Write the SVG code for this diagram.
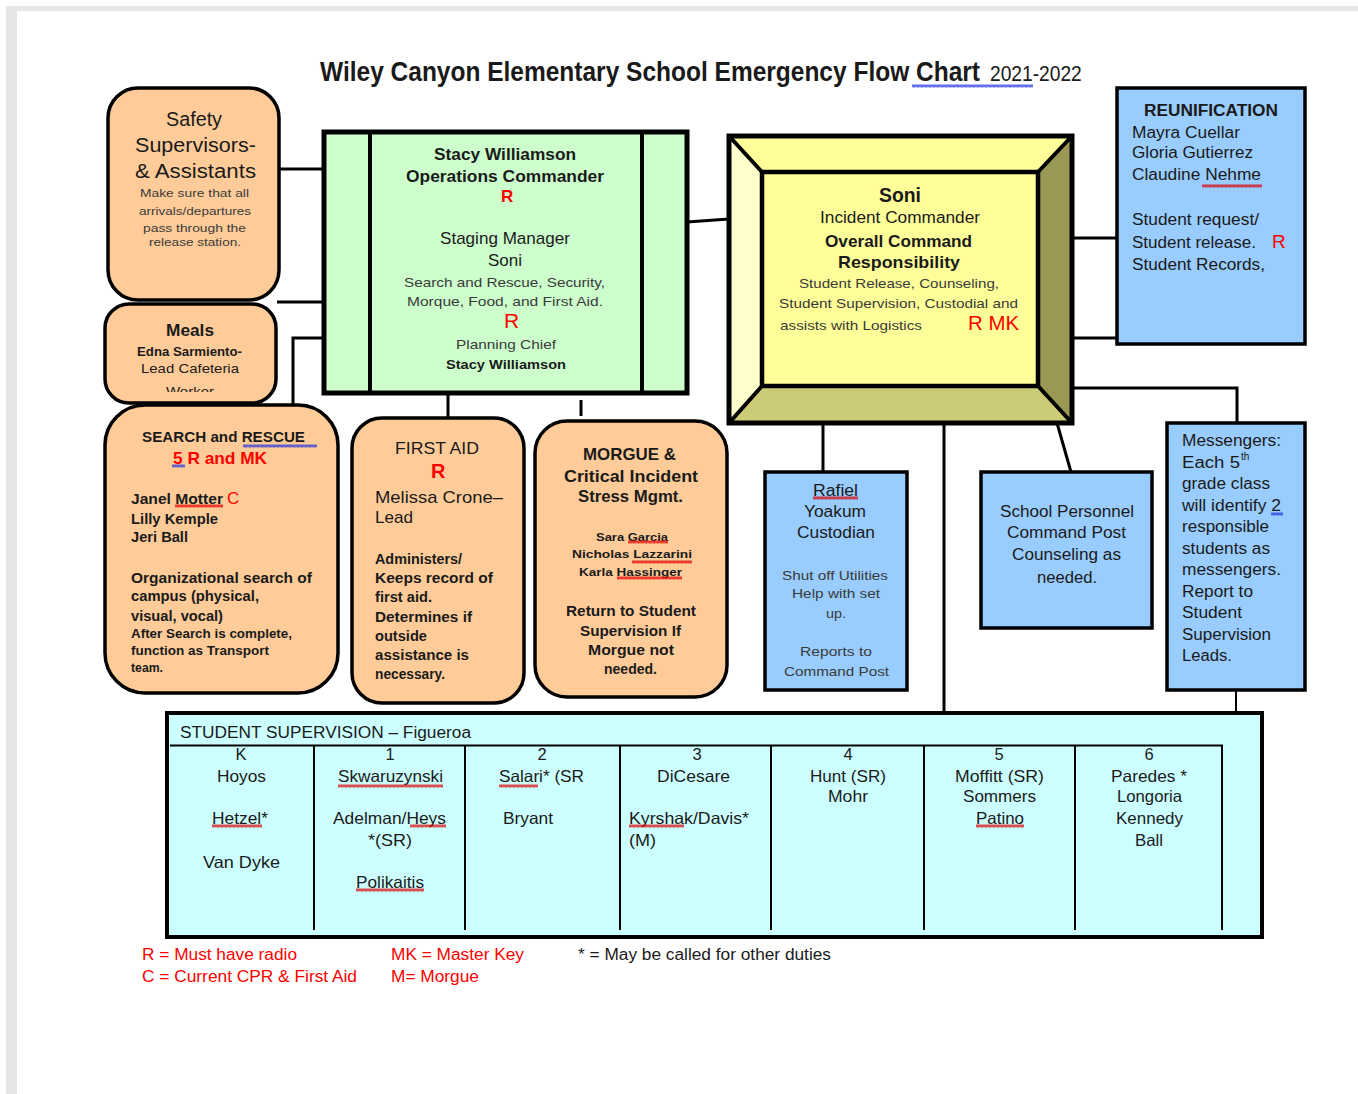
<svg xmlns="http://www.w3.org/2000/svg" width="1358" height="1094" viewBox="0 0 1358 1094">
<defs>
<style>
text{font-family:"Liberation Sans",Arial,sans-serif;fill:#1a1a1a}
.b{font-weight:bold}
.r{fill:#FF0000}
.g{fill:#3a3a3a}
.peach{fill:#FFCC99;stroke:#000;stroke-width:3.5}
.blue{fill:#99CCFF;stroke:#000;stroke-width:3.5}
.conn{stroke:#000;stroke-width:3;fill:none}
.thin{stroke:#000;stroke-width:2;fill:none}
.c{text-anchor:middle}
</style>
<pattern id="wr" width="4" height="4" patternUnits="userSpaceOnUse"><path d="M0 3.5L1 0.5L2 3.5L3 0.5L4 3.5" stroke="#E00000" stroke-width="0.8" fill="none"/></pattern>
<pattern id="wb" width="4" height="4" patternUnits="userSpaceOnUse"><path d="M0 3.5L1 0.5L2 3.5L3 0.5L4 3.5" stroke="#2030E0" stroke-width="0.8" fill="none"/></pattern>
<clipPath id="mealsClip"><rect x="105" y="305" width="171" height="87"/></clipPath>
</defs>
<rect x="0" y="0" width="1358" height="1094" fill="#fff"/>
<rect x="6" y="6" width="1352" height="5" fill="#E6E6E6"/>
<rect x="6" y="6" width="11" height="1088" fill="#E6E6E6"/>

<g id="title">
<text transform="translate(320 81) scale(0.8684 1)" x="0" y="0" class="b" font-size="27" textLength="760" lengthAdjust="spacingAndGlyphs" fill="#000">Wiley Canyon Elementary School Emergency Flow Chart</text>
<text transform="translate(990 81) scale(0.85 1)" x="0" y="0" font-size="22" textLength="108" lengthAdjust="spacingAndGlyphs">2021-2022</text>
</g>

<g id="connectors">
<path class="conn" d="M277 169H325"/>
<path class="conn" d="M277 302H325"/>
<path class="conn" d="M325 338H293V406"/>
<path class="conn" d="M448 393V418"/>
<path class="conn" d="M581 400V416"/>
<path class="conn" d="M687 222L729 219"/>
<path class="conn" d="M1072 238H1117"/>
<path class="conn" d="M1072 338H1117"/>
<path class="conn" d="M1072 388H1237V423"/>
<path class="conn" d="M823 423V472"/>
<path class="conn" d="M944 423V712"/>
<path class="conn" d="M1057 423L1071 472"/>
<path class="thin" d="M1236 690V727"/>
</g>

<g id="safety">
<rect class="peach" x="108" y="88" width="171" height="212" rx="30"/>
<text x="166" y="126" font-size="20" textLength="56" lengthAdjust="spacingAndGlyphs">Safety</text>
<text x="135" y="152" font-size="20" textLength="121" lengthAdjust="spacingAndGlyphs">Supervisors-</text>
<text x="135" y="178" font-size="20" textLength="121" lengthAdjust="spacingAndGlyphs">&amp; Assistants</text>
<text class="g" x="140" y="197" font-size="11.5" textLength="109" lengthAdjust="spacingAndGlyphs">Make sure that all</text>
<text class="g" x="139" y="215" font-size="11.5" textLength="112" lengthAdjust="spacingAndGlyphs">arrivals/departures</text>
<text class="g" x="143" y="232" font-size="11.5" textLength="103" lengthAdjust="spacingAndGlyphs">pass through the</text>
<text class="g" x="149" y="246" font-size="11.5" textLength="92" lengthAdjust="spacingAndGlyphs">release station.</text>
</g>

<g id="meals">
<rect class="peach" x="105" y="304" width="171" height="99" rx="24"/>
<g clip-path="url(#mealsClip)">
<text class="b" x="166" y="336" font-size="17" textLength="48" lengthAdjust="spacingAndGlyphs">Meals</text>
<text class="b" x="137" y="356" font-size="12" textLength="105" lengthAdjust="spacingAndGlyphs">Edna Sarmiento-</text>
<text x="141" y="373" font-size="13" textLength="98" lengthAdjust="spacingAndGlyphs">Lead Cafeteria</text>
<text x="166" y="396" font-size="13" textLength="48" lengthAdjust="spacingAndGlyphs">Worker</text>
</g>
</g>

<g id="operations">
<rect x="324" y="132" width="363" height="261" fill="#CCFFCC" stroke="#000" stroke-width="5"/>
<path d="M370 132V393M642 132V393" stroke="#000" stroke-width="4"/>
<text class="b" x="434" y="160" font-size="17" textLength="142" lengthAdjust="spacingAndGlyphs">Stacy Williamson</text>
<text class="b" x="406" y="182" font-size="17" textLength="198" lengthAdjust="spacingAndGlyphs">Operations Commander</text>
<text class="b r" x="501" y="202" font-size="17">R</text>
<text x="440" y="244" font-size="17" textLength="130" lengthAdjust="spacingAndGlyphs">Staging Manager</text>
<text x="488" y="266" font-size="17" textLength="34" lengthAdjust="spacingAndGlyphs">Soni</text>
<text class="g" x="404" y="287" font-size="13" textLength="201" lengthAdjust="spacingAndGlyphs">Search and Rescue, Security,</text>
<text class="g" x="407" y="306" font-size="13" textLength="196" lengthAdjust="spacingAndGlyphs">Morque, Food, and First Aid.</text>
<text class="r" x="504" y="328" font-size="21">R</text>
<text class="g" x="456" y="349" font-size="13" textLength="100" lengthAdjust="spacingAndGlyphs">Planning Chief</text>
<text class="b" x="446" y="369" font-size="13" textLength="120" lengthAdjust="spacingAndGlyphs">Stacy Williamson</text>
</g>

<g id="incident">
<polygon points="729,136 1072,136 1038,172 762,172" fill="#FFFF99"/>
<polygon points="729,136 762,172 762,386 729,423" fill="#FFFFCC"/>
<polygon points="729,423 762,386 1038,386 1072,423" fill="#CCCC77"/>
<polygon points="1072,136 1038,172 1038,386 1072,423" fill="#999955"/>
<rect x="762" y="172" width="276" height="214" fill="#FFFF99" stroke="#000" stroke-width="4.5"/>
<rect x="729" y="136" width="343" height="287" fill="none" stroke="#000" stroke-width="5"/>
<path d="M729 136L762 172M1072 136L1038 172M729 423L762 386M1072 423L1038 386" stroke="#000" stroke-width="4"/>
<text class="b" x="879" y="202" font-size="21" textLength="42" lengthAdjust="spacingAndGlyphs">Soni</text>
<text x="820" y="223" font-size="16" textLength="160" lengthAdjust="spacingAndGlyphs">Incident Commander</text>
<text class="b" x="825" y="247" font-size="17" textLength="147" lengthAdjust="spacingAndGlyphs">Overall Command</text>
<text class="b" x="838" y="268" font-size="17" textLength="122" lengthAdjust="spacingAndGlyphs">Responsibility</text>
<text class="g" x="799" y="288" font-size="13" textLength="200" lengthAdjust="spacingAndGlyphs">Student Release, Counseling,</text>
<text class="g" x="779" y="308" font-size="13" textLength="239" lengthAdjust="spacingAndGlyphs">Student Supervision, Custodial and</text>
<text class="g" x="780" y="330" font-size="13" textLength="142" lengthAdjust="spacingAndGlyphs">assists with Logistics</text>
<text class="r" x="968" y="330" font-size="21" textLength="51" lengthAdjust="spacingAndGlyphs">R MK</text>
</g>

<g id="reunification">
<rect class="blue" x="1117" y="88" width="188" height="256"/>
<text class="b" x="1144" y="116" font-size="16" textLength="134" lengthAdjust="spacingAndGlyphs">REUNIFICATION</text>
<text x="1132" y="138" font-size="16" textLength="108" lengthAdjust="spacingAndGlyphs">Mayra Cuellar</text>
<text x="1132" y="158" font-size="16" textLength="121" lengthAdjust="spacingAndGlyphs">Gloria Gutierrez</text>
<text x="1132" y="180" font-size="16" textLength="129" lengthAdjust="spacingAndGlyphs">Claudine Nehme</text>
<text x="1132" y="225" font-size="16" textLength="127" lengthAdjust="spacingAndGlyphs">Student request/</text>
<text x="1132" y="248" font-size="16" textLength="124" lengthAdjust="spacingAndGlyphs">Student release.</text>
<text class="r" x="1272" y="248" font-size="19">R</text>
<text x="1132" y="270" font-size="16" textLength="133" lengthAdjust="spacingAndGlyphs">Student Records,</text>
</g>

<g id="search-rescue">
<rect class="peach" x="105" y="405" width="233" height="288" rx="40"/>
<text class="b" x="142" y="442" font-size="14" textLength="163" lengthAdjust="spacingAndGlyphs">SEARCH and RESCUE</text>
<text class="b r" x="173" y="464" font-size="17" textLength="94" lengthAdjust="spacingAndGlyphs">5 R and MK</text>
<text class="b" x="131" y="504" font-size="14" textLength="92" lengthAdjust="spacingAndGlyphs">Janel Motter</text>
<text class="r" x="227" y="504" font-size="17">C</text>
<text class="b" x="131" y="524" font-size="14" textLength="87" lengthAdjust="spacingAndGlyphs">Lilly Kemple</text>
<text class="b" x="131" y="542" font-size="14" textLength="57" lengthAdjust="spacingAndGlyphs">Jeri Ball</text>
<text class="b" x="131" y="583" font-size="14" textLength="181" lengthAdjust="spacingAndGlyphs">Organizational search of</text>
<text class="b" x="131" y="601" font-size="14" textLength="128" lengthAdjust="spacingAndGlyphs">campus (physical,</text>
<text class="b" x="131" y="621" font-size="14" textLength="92" lengthAdjust="spacingAndGlyphs">visual, vocal)</text>
<text class="b" x="131" y="638" font-size="12" textLength="161" lengthAdjust="spacingAndGlyphs">After Search is complete,</text>
<text class="b" x="131" y="655" font-size="12" textLength="138" lengthAdjust="spacingAndGlyphs">function as Transport</text>
<text class="b" x="131" y="672" font-size="12" textLength="32" lengthAdjust="spacingAndGlyphs">team.</text>
</g>

<g id="first-aid">
<rect class="peach" x="352" y="418" width="172" height="285" rx="30"/>
<text x="395" y="454" font-size="17" textLength="84" lengthAdjust="spacingAndGlyphs">FIRST AID</text>
<text class="b r" x="431" y="478" font-size="20">R</text>
<text x="375" y="503" font-size="17" textLength="128" lengthAdjust="spacingAndGlyphs">Melissa Crone–</text>
<text x="375" y="523" font-size="17" textLength="38" lengthAdjust="spacingAndGlyphs">Lead</text>
<text class="b" x="375" y="564" font-size="14" textLength="87" lengthAdjust="spacingAndGlyphs">Administers/</text>
<text class="b" x="375" y="583" font-size="14" textLength="118" lengthAdjust="spacingAndGlyphs">Keeps record of</text>
<text class="b" x="375" y="602" font-size="14" textLength="57" lengthAdjust="spacingAndGlyphs">first aid.</text>
<text class="b" x="375" y="622" font-size="14" textLength="97" lengthAdjust="spacingAndGlyphs">Determines if</text>
<text class="b" x="375" y="641" font-size="14" textLength="52" lengthAdjust="spacingAndGlyphs">outside</text>
<text class="b" x="375" y="660" font-size="14" textLength="94" lengthAdjust="spacingAndGlyphs">assistance is</text>
<text class="b" x="375" y="679" font-size="14" textLength="70" lengthAdjust="spacingAndGlyphs">necessary.</text>
</g>

<g id="morgue">
<rect class="peach" x="535" y="421" width="192" height="276" rx="32"/>
<text class="b" x="583" y="460" font-size="17" textLength="93" lengthAdjust="spacingAndGlyphs">MORGUE &amp;</text>
<text class="b" x="564" y="482" font-size="17" textLength="134" lengthAdjust="spacingAndGlyphs">Critical Incident</text>
<text class="b" x="578" y="502" font-size="17" textLength="105" lengthAdjust="spacingAndGlyphs">Stress Mgmt.</text>
<text class="b" x="596" y="541" font-size="11" textLength="72" lengthAdjust="spacingAndGlyphs">Sara Garcia</text>
<text class="b" x="572" y="558" font-size="11" textLength="120" lengthAdjust="spacingAndGlyphs">Nicholas Lazzarini</text>
<text class="b" x="579" y="576" font-size="11" textLength="103" lengthAdjust="spacingAndGlyphs">Karla Hassinger</text>
<text class="b" x="566" y="616" font-size="14" textLength="130" lengthAdjust="spacingAndGlyphs">Return to Student</text>
<text class="b" x="580" y="636" font-size="14" textLength="101" lengthAdjust="spacingAndGlyphs">Supervision If</text>
<text class="b" x="588" y="655" font-size="14" textLength="86" lengthAdjust="spacingAndGlyphs">Morgue not</text>
<text class="b" x="604" y="674" font-size="14" textLength="53" lengthAdjust="spacingAndGlyphs">needed.</text>
</g>

<g id="custodian">
<rect class="blue" x="765" y="472" width="142" height="218"/>
<text x="813" y="496" font-size="16" textLength="45" lengthAdjust="spacingAndGlyphs">Rafiel</text>
<text x="804" y="517" font-size="16" textLength="62" lengthAdjust="spacingAndGlyphs">Yoakum</text>
<text x="797" y="538" font-size="16" textLength="78" lengthAdjust="spacingAndGlyphs">Custodian</text>
<text class="g" x="782" y="580" font-size="13" textLength="106" lengthAdjust="spacingAndGlyphs">Shut off Utilities</text>
<text class="g" x="792" y="598" font-size="13" textLength="88" lengthAdjust="spacingAndGlyphs">Help with set</text>
<text class="g" x="826" y="618" font-size="13" textLength="20" lengthAdjust="spacingAndGlyphs">up.</text>
<text class="g" x="800" y="656" font-size="13" textLength="72" lengthAdjust="spacingAndGlyphs">Reports to</text>
<text class="g" x="784" y="676" font-size="13" textLength="105" lengthAdjust="spacingAndGlyphs">Command Post</text>
</g>

<g id="school-personnel">
<rect class="blue" x="981" y="472" width="171" height="156"/>
<text x="1000" y="517" font-size="16" textLength="134" lengthAdjust="spacingAndGlyphs">School Personnel</text>
<text x="1007" y="538" font-size="16" textLength="119" lengthAdjust="spacingAndGlyphs">Command Post</text>
<text x="1012" y="560" font-size="16" textLength="109" lengthAdjust="spacingAndGlyphs">Counseling as</text>
<text x="1037" y="583" font-size="16" textLength="60" lengthAdjust="spacingAndGlyphs">needed.</text>
</g>

<g id="messengers">
<rect class="blue" x="1167" y="423" width="138" height="267"/>
<text x="1182" y="446" font-size="16" textLength="99" lengthAdjust="spacingAndGlyphs">Messengers:</text>
<text x="1182" y="468" font-size="16" textLength="58" lengthAdjust="spacingAndGlyphs">Each 5</text>
<text x="1241" y="460" font-size="10">th</text>
<text x="1182" y="489" font-size="16" textLength="88" lengthAdjust="spacingAndGlyphs">grade class</text>
<text x="1182" y="511" font-size="16" textLength="99" lengthAdjust="spacingAndGlyphs">will identify 2</text>
<text x="1182" y="532" font-size="16" textLength="87" lengthAdjust="spacingAndGlyphs">responsible</text>
<text x="1182" y="554" font-size="16" textLength="88" lengthAdjust="spacingAndGlyphs">students as</text>
<text x="1182" y="575" font-size="16" textLength="99" lengthAdjust="spacingAndGlyphs">messengers.</text>
<text x="1182" y="597" font-size="16" textLength="71" lengthAdjust="spacingAndGlyphs">Report to</text>
<text x="1182" y="618" font-size="16" textLength="60" lengthAdjust="spacingAndGlyphs">Student</text>
<text x="1182" y="640" font-size="16" textLength="89" lengthAdjust="spacingAndGlyphs">Supervision</text>
<text x="1182" y="661" font-size="16" textLength="50" lengthAdjust="spacingAndGlyphs">Leads.</text>
</g>

<g id="student-supervision">
<rect x="167" y="713" width="1095" height="224" fill="#CCFFFF" stroke="#000" stroke-width="4"/>
<path class="thin" d="M170 745.5H1223M314 745V930M465 745V930M620 745V930M771 745V930M924 745V930M1075 745V930M1222 745V930"/>
<text x="180" y="738" font-size="16" textLength="291" lengthAdjust="spacingAndGlyphs">STUDENT SUPERVISION – Figueroa</text>
<g font-size="16.5">
<text class="c" x="241" y="760">K</text>
<text class="c" x="390" y="760">1</text>
<text class="c" x="542" y="760">2</text>
<text class="c" x="697" y="760">3</text>
<text class="c" x="848" y="760">4</text>
<text class="c" x="999" y="760">5</text>
<text class="c" x="1149" y="760">6</text>
<text x="217" y="782" textLength="49" lengthAdjust="spacingAndGlyphs">Hoyos</text>
<text x="212" y="824" textLength="56" lengthAdjust="spacingAndGlyphs">Hetzel*</text>
<text x="203" y="868" textLength="77" lengthAdjust="spacingAndGlyphs">Van Dyke</text>
<text x="338" y="782" textLength="105" lengthAdjust="spacingAndGlyphs">Skwaruzynski</text>
<text x="333" y="824" textLength="113" lengthAdjust="spacingAndGlyphs">Adelman/Heys</text>
<text x="368" y="846" textLength="44" lengthAdjust="spacingAndGlyphs">*(SR)</text>
<text x="356" y="888" textLength="68" lengthAdjust="spacingAndGlyphs">Polikaitis</text>
<text x="499" y="782" textLength="85" lengthAdjust="spacingAndGlyphs">Salari* (SR</text>
<text x="503" y="824" textLength="50" lengthAdjust="spacingAndGlyphs">Bryant</text>
<text x="657" y="782" textLength="73" lengthAdjust="spacingAndGlyphs">DiCesare</text>
<text x="629" y="824" textLength="120" lengthAdjust="spacingAndGlyphs">Kyrshak/Davis*</text>
<text x="629" y="846" textLength="27" lengthAdjust="spacingAndGlyphs">(M)</text>
<text x="810" y="782" textLength="76" lengthAdjust="spacingAndGlyphs">Hunt (SR)</text>
<text x="828" y="802" textLength="40" lengthAdjust="spacingAndGlyphs">Mohr</text>
<text x="955" y="782" textLength="89" lengthAdjust="spacingAndGlyphs">Moffitt (SR)</text>
<text x="963" y="802" textLength="73" lengthAdjust="spacingAndGlyphs">Sommers</text>
<text x="976" y="824" textLength="48" lengthAdjust="spacingAndGlyphs">Patino</text>
<text x="1111" y="782" textLength="76" lengthAdjust="spacingAndGlyphs">Paredes *</text>
<text x="1117" y="802" textLength="65" lengthAdjust="spacingAndGlyphs">Longoria</text>
<text x="1116" y="824" textLength="67" lengthAdjust="spacingAndGlyphs">Kennedy</text>
<text x="1135" y="846" textLength="28" lengthAdjust="spacingAndGlyphs">Ball</text>
</g>
</g>

<g id="legend" font-size="16">
<text class="r" x="142" y="960" textLength="155" lengthAdjust="spacingAndGlyphs">R = Must have radio</text>
<text class="r" x="142" y="982" textLength="215" lengthAdjust="spacingAndGlyphs">C = Current CPR &amp; First Aid</text>
<text class="r" x="391" y="960" textLength="133" lengthAdjust="spacingAndGlyphs">MK = Master Key</text>
<text class="r" x="391" y="982" textLength="88" lengthAdjust="spacingAndGlyphs">M= Morgue</text>
<text x="578" y="960" textLength="253" lengthAdjust="spacingAndGlyphs">* = May be called for other duties</text>
</g>

<g id="spellmarks">
<rect x="912" y="84" width="121" height="4" fill="url(#wb)"/>
<rect x="1202" y="184" width="60" height="4" fill="url(#wr)"/>
<rect x="243" y="444" width="74" height="4" fill="url(#wb)"/>
<rect x="172" y="464" width="13" height="4" fill="url(#wb)"/>
<rect x="175" y="504" width="48" height="4" fill="url(#wr)"/>
<rect x="628" y="540" width="40" height="4" fill="url(#wr)"/>
<rect x="632" y="560" width="60" height="4" fill="url(#wr)"/>
<rect x="617" y="576" width="65" height="4" fill="url(#wr)"/>
<rect x="813" y="496" width="45" height="4" fill="url(#wr)"/>
<rect x="1271" y="512" width="12" height="4" fill="url(#wb)"/>
<rect x="212" y="824" width="50" height="4" fill="url(#wr)"/>
<rect x="338" y="784" width="105" height="4" fill="url(#wr)"/>
<rect x="410" y="824" width="36" height="4" fill="url(#wr)"/>
<rect x="356" y="888" width="68" height="4" fill="url(#wr)"/>
<rect x="499" y="784" width="39" height="4" fill="url(#wr)"/>
<rect x="629" y="824" width="55" height="4" fill="url(#wr)"/>
<rect x="976" y="824" width="48" height="4" fill="url(#wr)"/>
</g>
</svg>
